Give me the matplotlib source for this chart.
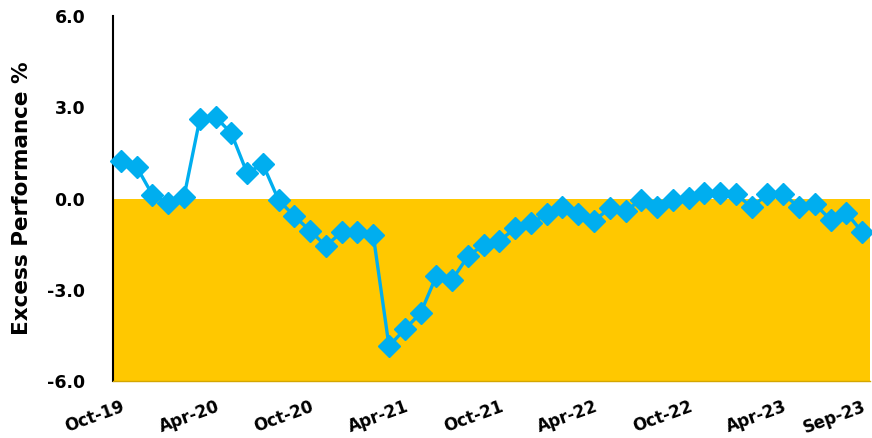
import matplotlib
matplotlib.use("Agg")
import matplotlib.pyplot as plt
import numpy as np

months = ["Oct-19","Nov-19","Dec-19","Jan-20","Feb-20","Mar-20","Apr-20","May-20","Jun-20","Jul-20",
          "Aug-20","Sep-20","Oct-20","Nov-20","Dec-20","Jan-21","Feb-21","Mar-21","Apr-21","May-21",
          "Jun-21","Jul-21","Aug-21","Sep-21","Oct-21","Nov-21","Dec-21","Jan-22","Feb-22","Mar-22",
          "Apr-22","May-22","Jun-22","Jul-22","Aug-22","Sep-22","Oct-22","Nov-22","Dec-22","Jan-23",
          "Feb-23","Mar-23","Apr-23","May-23","Jun-23","Jul-23","Aug-23","Sep-23"]
excess = [1.23, 1.04, 0.12, -0.15, 0.05, 2.60, 2.68, 2.15, 0.84, 1.13,
          -0.05, -0.58, -1.06, -1.56, -1.10, -1.10, -1.20, -4.85, -4.30, -3.77,
          -2.55, -2.68, -1.90, -1.52, -1.40, -0.97, -0.80, -0.52, -0.28, -0.52,
          -0.73, -0.32, -0.40, -0.05, -0.28, -0.05, 0.02, 0.18, 0.18, 0.14,
          -0.28, 0.14, 0.14, -0.28, -0.18, -0.70, -0.47, -1.10]
tick_labels = ["Oct-19","Apr-20","Oct-20","Apr-21","Oct-21","Apr-22","Oct-22","Apr-23","Sep-23"]
y_ticks = [-6.0, -3.0, 0.0, 3.0, 6.0]

plt.rcParams['font.family'] = ['DejaVu Sans']

fig = plt.figure(figsize=(8.72, 4.38), dpi=100)
ax = fig.add_axes([113/872, (438-381)/438, (870-113)/872, (381-16)/438])

x = np.arange(len(months))
ax.axhspan(-6, 0, color='#FFC800', zorder=0, lw=0)
ax.plot(x, excess, color='#00AEEF', lw=2.4, marker='D', markersize=11.5, zorder=3, clip_on=False)

ax.set_xlim(-0.5, len(months) - 0.5)
ax.set_ylim(-6, 6)
ax.set_yticks(y_ticks)
ax.set_yticklabels([f"{v:.1f}" for v in y_ticks], fontsize=12.5, fontweight='bold')
idx = [months.index(m) for m in tick_labels]
ax.set_xticks(idx)
ax.set_xticklabels(tick_labels, fontsize=12, fontweight='bold', rotation=20,
                   ha='right', rotation_mode='anchor')
ax.tick_params(axis='both', length=0)
ax.tick_params(axis='y', pad=20)
ax.tick_params(axis='x', pad=12)
ax.set_ylabel("Excess Performance %", fontsize=15.5, fontweight='bold', labelpad=11)

for s in ['top', 'right']:
    ax.spines[s].set_visible(False)
ax.spines['left'].set_color('black')
ax.spines['left'].set_linewidth(1.5)
ax.spines['bottom'].set_color('#D4A600')
ax.spines['bottom'].set_linewidth(1)

fig.savefig("out.png", dpi=100)
